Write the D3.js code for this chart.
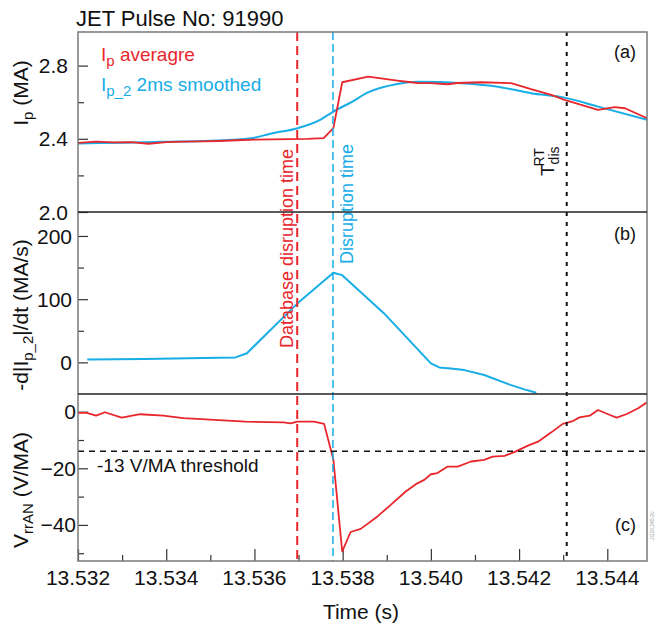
<!DOCTYPE html>
<html>
<head>
<meta charset="utf-8">
<script src="https://cdn.jsdelivr.net/npm/d3@7"></script>
<style>
  body { margin: 0; background: #fff; }
  svg text { font-family: "Liberation Sans", Arial, sans-serif; }
</style>
</head>
<body>
<div id="chart"></div>
<script>
// ---- data ----
var ipTime = [13.5320, 13.5324, 13.5328, 13.5332, 13.5336, 13.5340, 13.5344, 13.5348, 13.5352, 13.5356,
              13.5360, 13.5364, 13.5368, 13.5372, 13.53757, 13.53779, 13.53799, 13.53858, 13.53924, 13.5397,
              13.5400, 13.54038, 13.5406, 13.54114, 13.54182, 13.54227, 13.54273, 13.54303, 13.54379, 13.54417,
              13.5444, 13.5449];
var ipAvg = [2.378, 2.385, 2.380, 2.382, 2.373, 2.382, 2.385, 2.386, 2.388, 2.392,
             2.395, 2.397, 2.398, 2.400, 2.404, 2.458, 2.709, 2.740, 2.718, 2.705,
             2.704, 2.698, 2.705, 2.709, 2.704, 2.671, 2.640, 2.613, 2.558, 2.573,
             2.567, 2.513];

var ip2Time = [13.5320, 13.5330, 13.5340, 13.5350, 13.5356, 13.5360, 13.53636, 13.53698, 13.5375, 13.53779,
               13.5382, 13.53856, 13.53924, 13.5397, 13.5402, 13.5407, 13.54152, 13.54227, 13.54303, 13.54379,
               13.5449];
var ip2Smooth = [2.374, 2.379, 2.384, 2.390, 2.396, 2.406, 2.428, 2.458, 2.505, 2.549,
                 2.600, 2.652, 2.700, 2.712, 2.710, 2.704, 2.685, 2.649, 2.625, 2.576,
                 2.504];

var dipTime = [13.53221, 13.5335, 13.5345, 13.53557, 13.53583, 13.53697, 13.53779, 13.53799, 13.53894, 13.5400,
               13.54019, 13.54045, 13.54076, 13.54121, 13.54182, 13.54212, 13.54239];
var dipValues = [4.7, 5.5, 6.5, 7.9, 14.5, 93, 141.8, 138, 77.5, -1.6,
                 -8, -9.5, -12.2, -20, -36, -42.7, -48];

var vTime = [13.5320, 13.5322, 13.53241, 13.53261, 13.53299, 13.53341, 13.53393, 13.53439, 13.5358, 13.53666,
             13.53682, 13.53697, 13.53735, 13.53758, 13.53779, 13.53799, 13.53818, 13.53841, 13.53879, 13.53909,
             13.53943, 13.53966, 13.53985, 13.5400, 13.54015, 13.54038, 13.54061, 13.54091, 13.54121, 13.5414,
             13.54167, 13.54189, 13.5422, 13.54243, 13.54273, 13.54299, 13.54322, 13.54337, 13.5436, 13.54379,
             13.54402, 13.54421, 13.54443, 13.5447, 13.5449];
var vValues = [-0.4, -0.4, -1.4, -0.2, -2.1, -0.9, -1.4, -2.3, -3.5, -3.8,
               -4.1, -3.5, -3.5, -4.3, -17, -49.4, -42.5, -41.4, -37, -32.9,
               -28.2, -25.6, -24.1, -22.1, -21.7, -19.4, -19.4, -17.6, -17, -15.9,
               -15.6, -14.3, -12, -10.6, -7.3, -4.3, -3.3, -2, -1.4, 0.6,
               -0.9, -2.1, -0.9, 1.2, 3.3];

var dbDisruptionTime = 13.53697;
var disruptionTime = 13.53778;
var tDisRT = 13.54308;
var thresholdLevel = -14;

var xTicks = [13.532, 13.534, 13.536, 13.538, 13.540, 13.542, 13.544];
var xTickLabels = ["13.532", "13.534", "13.536", "13.538", "13.540", "13.542", "13.544"];
var xMinorTicks = [13.533, 13.535, 13.537, 13.539, 13.541, 13.543];

var aTicks = [2.0, 2.4, 2.8];
var aTickLabels = ["2.0", "2.4", "2.8"];
var aMinor = [2.2, 2.6];
var bTicks = [0, 100, 200];
var bTickLabels = ["0", "100", "200"];
var bMinor = [50, 150];
var cTicks = [0, -20, -40];
var cTickLabels = ["0", "\u221220", "\u221240"];
var cMinor = [-10, -30, -50];

var red = "#e8262b";
var blue = "#17ade6";

// ---- layout ----
var W = 656, H = 626;
var left = 78, right = 647;

var svg = d3.select("#chart").append("svg")
    .attr("width", W)
    .attr("height", H);

var x = d3.scaleLinear().domain([13.532, 13.5449]).range([left, right]);

var panels = [
    {id: "a", top: 32, bottom: 212, domain: [2.0, 2.9836], ticks: aTicks, labels: aTickLabels, minor: aMinor, labelX: 68, tag: "(a)", tagY: 58},
    {id: "b", top: 212, bottom: 394, domain: [-50, 237.9], ticks: bTicks, labels: bTickLabels, minor: bMinor, labelX: 72, tag: "(b)", tagY: 240},
    {id: "c", top: 394, bottom: 561, domain: [-52.75, 6.25], ticks: cTicks, labels: cTickLabels, minor: cMinor, labelX: 76, tag: "(c)", tagY: 531}
];

panels.forEach(function(p) {
    p.y = d3.scaleLinear().domain(p.domain).range([p.bottom, p.top]);

    svg.append("clipPath").attr("id", "clip-" + p.id)
        .append("rect")
        .attr("x", left).attr("y", p.top)
        .attr("width", right - left).attr("height", p.bottom - p.top);

    // inward major ticks
    var ax = d3.axisRight(p.y).tickValues(p.ticks).tickSize(10).tickFormat("");
    svg.append("g").attr("transform", "translate(" + left + ",0)").call(ax)
        .call(function(g) { g.select(".domain").remove(); })
        .selectAll("line").attr("stroke", "#333").attr("stroke-width", 1.2);
    var axm = d3.axisRight(p.y).tickValues(p.minor).tickSize(6).tickFormat("");
    svg.append("g").attr("transform", "translate(" + left + ",0)").call(axm)
        .call(function(g) { g.select(".domain").remove(); })
        .selectAll("line").attr("stroke", "#333").attr("stroke-width", 1.2);

    // tick labels
    svg.append("g").selectAll("text")
        .data(p.ticks)
        .enter().append("text")
        .attr("x", p.labelX)
        .attr("y", function(d) { return p.y(d); })
        .attr("dy", "0.36em")
        .attr("text-anchor", "end")
        .attr("font-size", 21)
        .attr("fill", "#111")
        .text(function(d, i) { return p.labels[i]; });

    svg.append("text")
        .attr("x", 636).attr("y", p.tagY)
        .attr("text-anchor", "end")
        .attr("font-size", 18)
        .attr("fill", "#111")
        .text(p.tag);
});

var pa = panels[0], pb = panels[1], pc = panels[2];

// x ticks on bottom of panel (c), inward
var xa = d3.axisTop(x).tickValues(xTicks).tickSize(12).tickFormat("");
svg.append("g").attr("transform", "translate(0," + pc.bottom + ")").call(xa)
    .call(function(g) { g.select(".domain").remove(); })
    .selectAll("line").attr("stroke", "#333").attr("stroke-width", 1.2);
var xam = d3.axisTop(x).tickValues(xMinorTicks).tickSize(6).tickFormat("");
svg.append("g").attr("transform", "translate(0," + pc.bottom + ")").call(xam)
    .call(function(g) { g.select(".domain").remove(); })
    .selectAll("line").attr("stroke", "#333").attr("stroke-width", 1.2);

svg.append("g").selectAll("text")
    .data(xTicks)
    .enter().append("text")
    .attr("x", function(d) { return x(d); })
    .attr("y", 585)
    .attr("text-anchor", "middle")
    .attr("font-size", 21)
    .attr("fill", "#111")
    .text(function(d, i) { return xTickLabels[i]; });

// ---- series ----
function drawSeries(panel, times, values, color, width, curve) {
    var data = times.map(function(t, i) { return [t, values[i]]; });
    var line = d3.line()
        .curve(curve || d3.curveLinear)
        .x(function(d) { return x(d[0]); })
        .y(function(d) { return panel.y(d[1]); });
    svg.append("path")
        .datum(data)
        .attr("clip-path", "url(#clip-" + panel.id + ")")
        .attr("fill", "none")
        .attr("stroke", color)
        .attr("stroke-width", width)
        .attr("stroke-linejoin", "round")
        .attr("d", line);
}

drawSeries(pa, ip2Time, ip2Smooth, blue, 2, d3.curveMonotoneX);
drawSeries(pa, ipTime, ipAvg, red, 1.8);
drawSeries(pb, dipTime, dipValues, blue, 2);
drawSeries(pc, vTime, vValues, red, 1.8);

// threshold line
svg.append("line")
    .attr("x1", left).attr("x2", right)
    .attr("y1", pc.y(thresholdLevel)).attr("y2", pc.y(thresholdLevel))
    .attr("stroke", "#111").attr("stroke-width", 1.5)
    .attr("stroke-dasharray", "6,5");

svg.append("text")
    .attr("x", 97).attr("y", 472)
    .attr("font-size", 19)
    .attr("fill", "#111")
    .text("-13 V/MA threshold");

// vertical markers
svg.append("line")
    .attr("x1", x(dbDisruptionTime)).attr("x2", x(dbDisruptionTime))
    .attr("y1", pa.top).attr("y2", pc.bottom)
    .attr("stroke", red).attr("stroke-width", 2)
    .attr("stroke-dasharray", "9,5");
svg.append("line")
    .attr("x1", x(disruptionTime)).attr("x2", x(disruptionTime))
    .attr("y1", pa.top).attr("y2", pc.bottom)
    .attr("stroke", blue).attr("stroke-width", 1.5)
    .attr("stroke-dasharray", "8,4");
svg.append("line")
    .attr("x1", x(tDisRT)).attr("x2", x(tDisRT))
    .attr("y1", pa.top).attr("y2", pc.bottom)
    .attr("stroke", "#111").attr("stroke-width", 2)
    .attr("stroke-dasharray", "4,6");

svg.append("text")
    .attr("transform", "translate(" + (x(dbDisruptionTime) - 4) + ",348) rotate(-90)")
    .attr("font-size", 18)
    .attr("fill", red)
    .text("Database disruption time");
svg.append("text")
    .attr("transform", "translate(" + (x(disruptionTime) + 20) + ",264) rotate(-90)")
    .attr("font-size", 18)
    .attr("fill", blue)
    .text("Disruption time");

var tdis = svg.append("text")
    .attr("transform", "translate(" + (x(tDisRT) - 13) + ",176) rotate(-90)")
    .attr("font-size", 19)
    .attr("fill", "#111");
tdis.append("tspan").text("T");
tdis.append("tspan").attr("font-size", 14).attr("dy", 5).text("dis");
tdis.append("tspan").attr("font-size", 14).attr("dx", -20).attr("dy", -15).text("RT");

// ---- frame ----
svg.append("rect")
    .attr("x", left).attr("y", pa.top)
    .attr("width", right - left).attr("height", pc.bottom - pa.top)
    .attr("fill", "none")
    .attr("stroke", "#7a7a7a").attr("stroke-width", 1.5);
[pa.bottom, pb.bottom].forEach(function(yy) {
    svg.append("line")
        .attr("x1", left).attr("x2", right)
        .attr("y1", yy).attr("y2", yy)
        .attr("stroke", "#222").attr("stroke-width", 1.5);
});

// ---- titles ----
svg.append("text")
    .attr("x", 76).attr("y", 26)
    .attr("font-size", 22)
    .attr("fill", "#111")
    .text("JET Pulse No: 91990");

var leg1 = svg.append("text").attr("x", 101).attr("y", 61).attr("font-size", 19).attr("fill", red);
leg1.append("tspan").text("I");
leg1.append("tspan").attr("font-size", 15).attr("dy", 5).text("p");
leg1.append("tspan").attr("dy", -5).text(" averagre");

var leg2 = svg.append("text").attr("x", 101).attr("y", 91).attr("font-size", 19).attr("fill", blue);
leg2.append("tspan").text("I");
leg2.append("tspan").attr("font-size", 15).attr("dy", 5).text("p_2");
leg2.append("tspan").attr("dy", -5).text(" 2ms smoothed");

var yl1 = svg.append("text")
    .attr("transform", "translate(28,93) rotate(-90)")
    .attr("text-anchor", "middle")
    .attr("font-size", 21).attr("fill", "#111");
yl1.append("tspan").text("I");
yl1.append("tspan").attr("font-size", 15).attr("dy", 5).text("p");
yl1.append("tspan").attr("dy", -5).text(" (MA)");

var yl2 = svg.append("text")
    .attr("transform", "translate(28,315) rotate(-90)")
    .attr("text-anchor", "middle")
    .attr("font-size", 21).attr("fill", "#111");
yl2.append("tspan").text("-d|I");
yl2.append("tspan").attr("font-size", 15).attr("dy", 5).text("p_2");
yl2.append("tspan").attr("dy", -5).text("|/dt  (MA/s)");

var yl3 = svg.append("text")
    .attr("transform", "translate(28,490) rotate(-90)")
    .attr("text-anchor", "middle")
    .attr("font-size", 21).attr("fill", "#111");
yl3.append("tspan").text("V");
yl3.append("tspan").attr("font-size", 15).attr("dy", 5).text("rrAN");
yl3.append("tspan").attr("dy", -5).text(" (V/MA)");

svg.append("text")
    .attr("x", 361).attr("y", 619)
    .attr("text-anchor", "middle")
    .attr("font-size", 21)
    .attr("fill", "#111")
    .text("Time (s)");

// small figure id at the right edge
svg.append("text")
    .attr("transform", "translate(654,540) rotate(-90)")
    .attr("font-size", 5)
    .attr("fill", "#999")
    .text("JG15.245-2c");
</script>
</body>
</html>
